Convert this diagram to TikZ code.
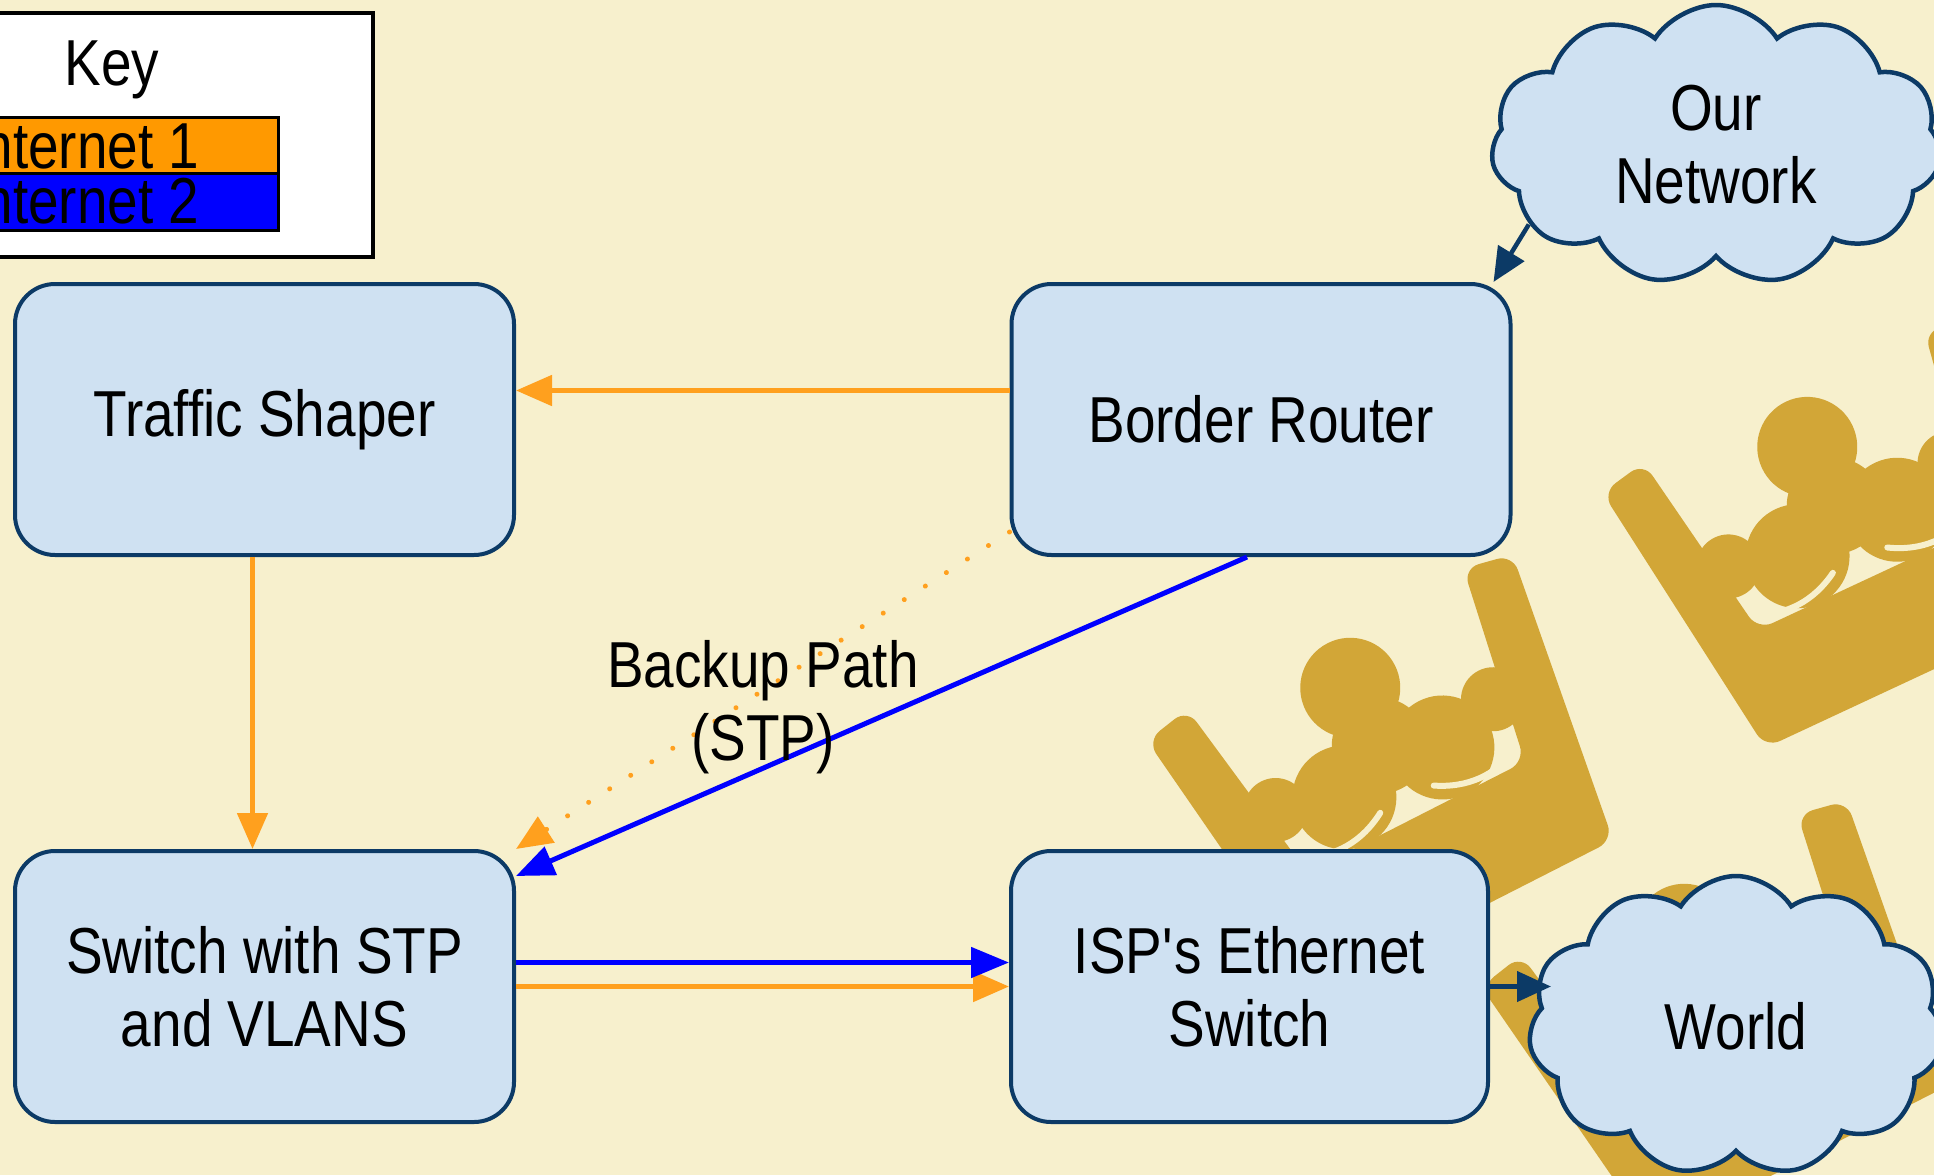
\documentclass[tikz,border=0pt]{standalone}
\usepackage{fontspec}
\setmainfont[FakeStretch=0.845]{Liberation Sans}
\usepackage{tikz}
\usetikzlibrary{shapes.symbols}
\usetikzlibrary{arrows.meta}
\usetikzlibrary{positioning}

\definecolor{paper}{RGB}{247,240,205}
\definecolor{crowngold}{RGB}{210,166,55}
\definecolor{boxfill}{RGB}{207,225,242}
\definecolor{boxline}{RGB}{12,58,102}
\definecolor{inetone}{RGB}{255,160,30}
\definecolor{inettwo}{RGB}{0,0,255}
\definecolor{keyorange}{RGB}{255,153,0}

\tikzset{
  crown/.pic={
    \begin{scope}[yscale=-1]
      % band and side arms
      \fill[crowngold, rounded corners=16pt] (-165,0) -- (165,0) -- (205,300) -- (155,310)
        -- (122,110) -- (-122,110) -- (-155,310) -- (-205,300) -- cycle;
      \fill[crowngold] (-122,180) circle[radius=32] (122,180) circle[radius=32];
      % trefoil
      \fill[crowngold] (0,255) circle[radius=50] (-55,160) circle[radius=52]
        (55,160) circle[radius=52] (0,190) circle[radius=48];
      \draw[paper, line width=6pt, line cap=round]
        (-115,124) .. controls (-90,112) and (-60,112) .. (-30,130);
      \draw[paper, line width=6pt, line cap=round]
        (115,124) .. controls (90,112) and (60,112) .. (30,130);
    \end{scope}
  }
}

\begin{document}
\begin{tikzpicture}[
    x=1pt, y=-1pt,
    every node/.style={font=\fontsize{65}{73}\selectfont, inner sep=0pt, align=center},
    device/.style={rectangle, rounded corners=40pt, draw=boxline, fill=boxfill,
      line width=4pt, minimum width=499pt, minimum height=271pt},
    netcloud/.style={cloud, cloud puffs=11, cloud puff arc=115, cloud ignores aspect,
      draw=boxline, fill=boxfill, line width=4.5pt},
    keybar/.style={rectangle, draw=black, line width=3pt, minimum width=428pt},
    inet1/.style={-{Triangle[length=36pt, width=30pt]}, color=inetone, line width=5pt},
    inet2/.style={-{Triangle[length=38pt, width=30pt]}, color=inettwo, line width=5pt},
    backup/.style={inet1, dash pattern=on 0.01pt off 25pt, line cap=round},
    uplink/.style={-{Triangle[length=34pt, width=30pt]}, color=boxline, line width=4.5pt},
  ]
  \useasboundingbox (0,0) rectangle (1934,1175);
  \clip (0,0) rectangle (1934,1175);
  \fill[paper] (0,0) rectangle (1934,1175);

  % watermark
  \pic[rotate=27] at (1466,915) {crown};
  \pic[rotate=25] at (1915,678) {crown};
  \pic[rotate=27] at (1800,1161) {crown};

  % Nodes
  \node[device] (shaper) at (264.5,419.5) {Traffic Shaper};
  \node[device] (router) at (1261,419.5) {Border Router};
  \node[device] (switch) at (264.5,986.5) {Switch with STP\\and VLANS};
  \node[device, minimum width=477pt] (isp) at (1249.5,986.5) {ISP\textquotesingle s Ethernet\\Switch};
  \node[netcloud, minimum width=450pt, minimum height=280pt] (ournet) at (1716,145) {Our\\Network};
  \node[netcloud, minimum width=415pt, minimum height=300pt] (world) at (1736,1026) {World};

  % Key
  \node[rectangle, draw=black, fill=white, line width=4pt,
    minimum width=573pt, minimum height=244pt] (key) at (86.5,135) {};
  \node (keytitle) at (112,70) {Key};
  \node[keybar, fill=keyorange, minimum height=56pt] (keyone) at (64,145) {};
  \node[keybar, fill=inettwo, minimum height=57pt] (keytwo) at (64,201.5) {};
  \node[anchor=base west] (keyonetext) at (-33,168) {Internet 1};
  \node[anchor=base west] (keytwotext) at (-33,223) {Internet 2};

  % Internet 1 (orange)
  \draw[inet1] ([yshift=29pt]router.west) -- ([yshift=29pt]shaper.east);
  \draw[inet1] ([xshift=-12pt]shaper.south) -- ([xshift=-12pt]switch.north);
  \draw[backup] ([yshift=25pt]router.south west) -- (switch.north east);
  \draw[inet1] (switch.east) -- (isp.west);

  % Internet 2 (blue)
  \draw[inet2] ([xshift=-14pt]router.south) -- ([yshift=-27pt]switch.north east);
  \draw[inet2] ([yshift=24pt]switch.east) -- ([yshift=24pt]isp.west);

  % outside links
  \draw[uplink] (ournet.203) -- ([xshift=-19pt]router.north east);
  \draw[uplink, shorten >=-22pt] (isp.east) -- (isp.east -| world.west);

  \node (backuplbl) at (763,707) {Backup Path\\(STP)};
\end{tikzpicture}
\end{document}
